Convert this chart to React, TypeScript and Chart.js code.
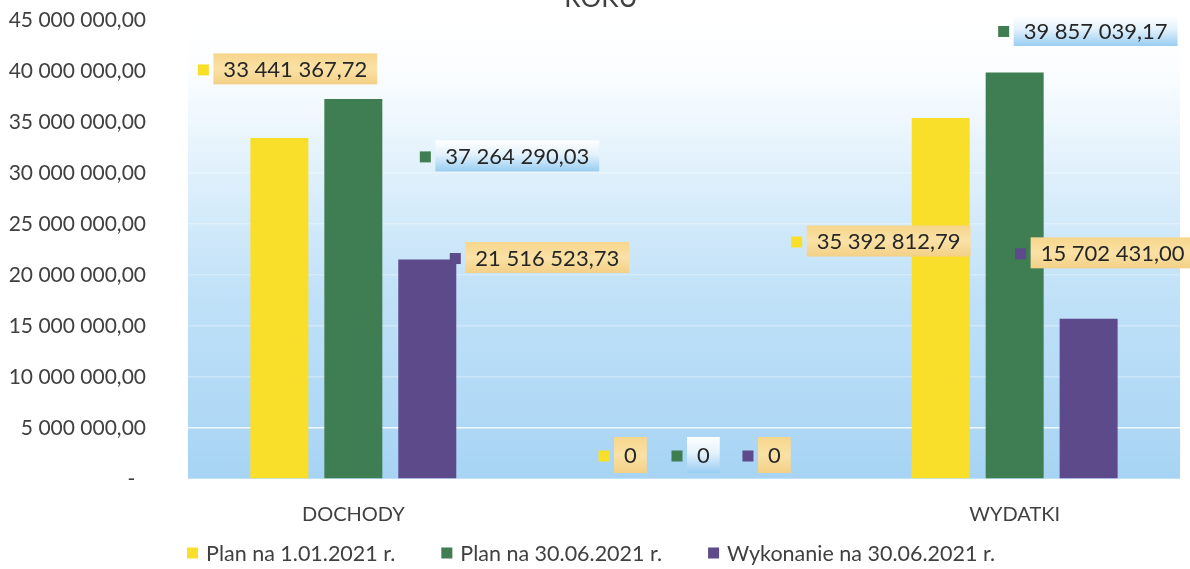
import React, { useEffect, useRef } from 'react';
import { Chart, registerables } from 'chart.js';

Chart.register(...registerables);

// ---- data ----
const categories = ['DOCHODY', '', 'WYDATKI'];
const seriesNames = ['Plan na 1.01.2021 r.', 'Plan na 30.06.2021 r.', 'Wykonanie na 30.06.2021 r.'];
const planStart = [33441367.72, 0, 35392812.79];
const planMid = [37264290.03, 0, 39857039.17];
const execution = [21516523.73, 0, 15702431.0];
const yMax = 45000000;
const yStep = 5000000;
const titleText = 'ROKU';

// ---- styles ----
const seriesColors = ['#FADF2A', '#3F7D52', '#5C4A8B'];
const labelBoxKinds = ['orange', 'blue', 'orange'];
// offsets of each data-label key square from its bar top (px)
const labelOffsets = [
  [[-76, -68], [-6, -23], [-144, 124]],
  [[72, 58], [-7, -23], [-11, -41]],
  [[28, -1], [-10, -23], [-68, -65]],
];
const FONT = 'Lato, "Open Sans", sans-serif';

function fmt(v: number): string {
  if (v === 0) return '0';
  const [i, d] = v.toFixed(2).split('.');
  return i.replace(/\B(?=(\d{3})+(?!\d))/g, ' ') + ',' + d;
}

const bgPlugin = {
  id: 'bgPlugin',
  beforeDraw(chart: any) {
    const { ctx, chartArea: a, width, height } = chart;
    ctx.save();
    ctx.fillStyle = '#ffffff';
    ctx.fillRect(0, 0, width, height);
    const g = ctx.createLinearGradient(0, a.top, 0, a.bottom);
    g.addColorStop(0, '#FFFFFF');
    g.addColorStop(0.12, '#FAFDFF');
    g.addColorStop(0.35, '#DDEFFB');
    g.addColorStop(0.6, '#C0E1F8');
    g.addColorStop(1, '#A7D4F4');
    ctx.fillStyle = g;
    ctx.fillRect(a.left, a.top, a.right - a.left, a.bottom - a.top);
    ctx.restore();
  },
};

const labelPlugin = {
  id: 'labelPlugin',
  afterDatasetsDraw(chart: any) {
    const { ctx } = chart;
    ctx.save();
    ctx.font = `22px ${FONT}`;
    ctx.textBaseline = 'middle';
    chart.data.datasets.forEach((ds: any, si: number) => {
      const meta = chart.getDatasetMeta(si);
      meta.data.forEach((bar: any, ci: number) => {
        const [dx, dy] = labelOffsets[si][ci];
        const sx = bar.x + dx;
        const sy = bar.y + dy;
        const text = fmt(ds.data[ci]);
        const tw = ctx.measureText(text).width;
        const bx = sx + 10;
        const bw = tw + 20;
        const bh = ds.data[ci] === 0 ? 36 : 31;
        const by = sy - bh / 2 - 1;
        const g = ctx.createLinearGradient(0, by, 0, by + bh);
        if (labelBoxKinds[si] === 'orange') {
          g.addColorStop(0, '#F6D68C');
          g.addColorStop(0.5, '#FAE1A5');
          g.addColorStop(1, '#F3D086');
        } else {
          g.addColorStop(0, '#FFFFFF');
          g.addColorStop(0.45, '#E4F2FC');
          g.addColorStop(1, '#98CDF2');
        }
        ctx.fillStyle = g;
        ctx.fillRect(bx, by, bw, bh);
        ctx.fillStyle = seriesColors[si];
        ctx.fillRect(sx - 5.5, sy - 5.5, 11, 11);
        ctx.fillStyle = '#262626';
        ctx.textAlign = 'left';
        ctx.fillText(text, bx + 10, sy);
      });
    });
    ctx.restore();
  },
};

const decorPlugin = {
  id: 'decorPlugin',
  afterDraw(chart: any) {
    const { ctx, width } = chart;
    ctx.save();
    // title (cut at the top edge, as in the source)
    ctx.font = `26px ${FONT}`;
    ctx.fillStyle = '#404040';
    ctx.textAlign = 'center';
    ctx.textBaseline = 'alphabetic';
    ctx.fillText(titleText, 601, 7);
    // legend
    ctx.font = `21.5px ${FONT}`;
    ctx.textBaseline = 'middle';
    ctx.textAlign = 'left';
    const box = 11, gapText = 8, gapItem = 46;
    const widths = seriesNames.map((n) => box + gapText + ctx.measureText(n).width);
    const total = widths.reduce((a, b) => a + b, 0) + gapItem * (widths.length - 1);
    let x = width / 2 - total / 2 - 4;
    const y = 553;
    seriesNames.forEach((n, i) => {
      ctx.fillStyle = seriesColors[i];
      ctx.fillRect(x, y - box / 2, box, box);
      ctx.fillStyle = '#404040';
      ctx.fillText(n, x + box + gapText, y + 1);
      x += widths[i] + gapItem;
    });
    ctx.restore();
  },
};

export default function App() {
  const ref = useRef<HTMLCanvasElement | null>(null);
  useEffect(() => {
    if (!ref.current) return;
    const datasets = [planStart, planMid, execution].map((d, i) => ({
      label: seriesNames[i],
      data: d,
      backgroundColor: seriesColors[i],
      borderWidth: 0,
      categoryPercentage: 0.671,
      barPercentage: 0.784,
    }));
    const chart = new Chart(ref.current, {
      type: 'bar',
      data: { labels: categories, datasets },
      options: {
        responsive: false,
        animation: false,
        layout: { padding: { left: 0, right: 10, top: 20, bottom: 41 } },
        plugins: {
          legend: { display: false },
          tooltip: { enabled: false },
          title: { display: false },
        },
        scales: {
          x: {
            afterFit(scale: any) {
              scale.height = 49;
            },
            grid: { display: false, drawTicks: false },
            border: { display: false },
            ticks: {
              padding: 24,
              color: '#404040',
              font: { family: FONT, size: 20 },
              maxRotation: 0,
            },
          },
          y: {
            min: 0,
            max: yMax,
            afterFit(scale: any) {
              scale.width = 188;
              scale.paddingTop = 0;
              scale.paddingBottom = 0;
            },
            grid: {
              color: (c: any) =>
                c.tick && c.tick.value === yStep ? 'rgba(255,255,255,0.85)' : 'rgba(255,255,255,0.3)',
              lineWidth: 1.5,
              drawTicks: false,
            },
            border: { display: false },
            ticks: {
              stepSize: yStep,
              padding: 42,
              color: '#404040',
              font: { family: FONT, size: 21 },
              callback: (v: any) => (Number(v) === 0 ? '-  ' : fmt(Number(v))),
            },
          },
        },
      },
      plugins: [bgPlugin, labelPlugin, decorPlugin],
    });
    return () => chart.destroy();
  }, []);
  return (
    <div style={{ position: 'fixed', left: 0, top: 0, width: 1190, height: 569, background: '#fff' }}>
      <canvas ref={ref} width={1190} height={569} style={{ display: 'block' }} />
    </div>
  );
}
